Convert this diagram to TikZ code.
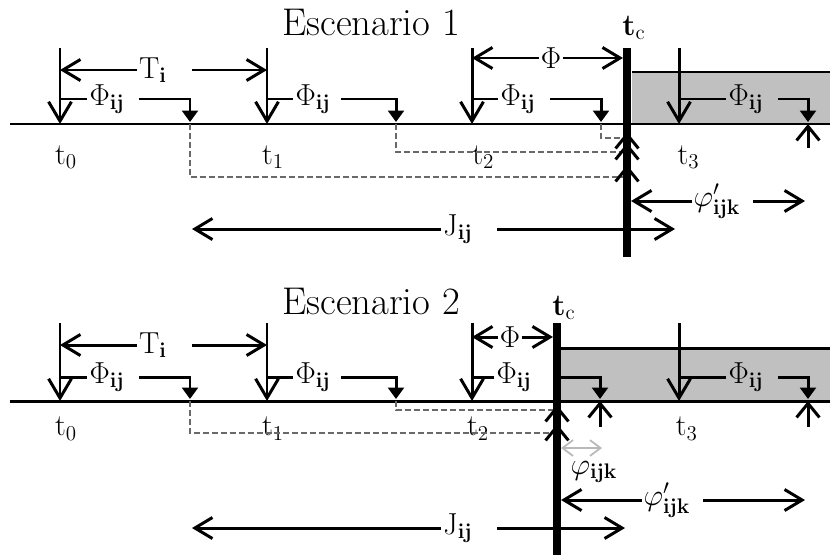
\documentclass[tikz,border=0pt]{standalone}
\usepackage{amsmath}
\usetikzlibrary{arrows.meta,positioning}
\definecolor{zonegray}{RGB}{192,192,192}
\definecolor{dashgray}{RGB}{105,105,105}

\begin{document}
\begin{tikzpicture}[
  x=0.02cm, y=-0.02cm,
  font=\LARGE,
  timeline/.style={line width=1.7pt},
  cut/.style={line width=4.6pt},
  release/.style={line width=1.7pt, -{Straight Barb[length=11pt,width=13pt]}},
  span/.style={line width=1.7pt, -{Straight Barb[length=10pt,width=12pt]}},
  delay/.style={line width=1.7pt, -{Triangle[length=6.5pt,width=9pt]}},
  trace/.style={dash pattern=on 3.4pt off 1.7pt, dashgray, line width=0.9pt},
  arrive/.style={line width=1.7pt, -{Straight Barb[length=8pt,width=13pt]}},
  phiarrow/.style={line width=1pt, gray!55, {Straight Barb[length=6pt,width=9pt]}-{Straight Barb[length=6pt,width=9pt]}},
  lbl/.style={inner xsep=1pt, inner ysep=1pt},
  heading/.style={font=\fontsize{22}{26}\selectfont}
]
\useasboundingbox (0,0) rectangle (830,555);

% Escenario 1
\node[heading] (esc1) at (371,22) {Escenario 1};
\fill[zonegray] (632,72) rectangle (830,124);
\coordinate (s1top) at (0,48);
\coordinate (s1L) at (10,124);
\coordinate (s1R) at (830,124);
\coordinate (s1zone) at (632,72);
\draw[timeline] (s1zone) -- (s1zone -| s1R);
\draw[timeline] (s1L) -- (s1R);

\coordinate (s1t0) at (60,124);
\coordinate (s1t1) at (267,124);
\coordinate (s1t2) at (472,124);
\coordinate (s1t3) at (679,124);
\coordinate (s1c) at (627,48);
\coordinate (s1cb) at (627,257);

\draw[release] (s1t0 |- s1top) -- (s1t0);
\draw[release] (s1t1 |- s1top) -- (s1t1);
\draw[release] (s1t2 |- s1top) -- (s1t2);
\draw[release] (s1t3 |- s1top) -- (s1t3);
\node[lbl, below right=11pt and -4pt of s1t0] (s1n0) {$\mathrm{t}_0$};
\node[lbl, below right=11pt and -4pt of s1t1] (s1n1) {$\mathrm{t}_1$};
\node[lbl, below right=11pt and -1pt of s1t2] (s1n2) {$\mathrm{t}_2$};
\node[lbl, below right=11pt and -2pt of s1t3] (s1n3) {$\mathrm{t}_3$};

\node[lbl] (s1T) at (153,70) {$\mathrm{T}_{\mathbf{i}}$};
\draw[span] (s1T) -- (s1t0 |- s1T);
\draw[span] ([xshift=13pt]s1T.east) -- (s1t1 |- s1T);
\node[lbl] (s1F) at (551,58) {$\Phi$};
\draw[span] (s1F) -- (s1t2 |- s1F);
\draw[span, shorten >=2.3pt] (s1F) -- (s1c |- s1F);

% Phi_ij
\coordinate (s1d0) at (190,122);
\coordinate (s1d1) at (396,122);
\coordinate (s1d2) at (601,122);
\coordinate (s1d3) at (808,122);
\node[lbl] (s1p0) at (107,99) {$\Phi_{\mathbf{ij}}$};
\node[lbl] (s1p1) at (313,99) {$\Phi_{\mathbf{ij}}$};
\node[lbl] (s1p2) at (518,99) {$\Phi_{\mathbf{ij}}$};
\node[lbl, fill=zonegray] (s1p3) at (746,99) {$\Phi_{\mathbf{ij}}$};
\draw[timeline] (s1t0 |- s1p0) -- (s1p0);
\draw[timeline] (s1t1 |- s1p1) -- (s1p1);
\draw[timeline] (s1t2 |- s1p2) -- (s1p2);
\draw[timeline] (s1t3 |- s1p3) -- (s1p3);
\draw[delay] ([xshift=7pt]s1p0.east) -| (s1d0);
\draw[delay] ([xshift=5pt]s1p1.east) -| (s1d1);
\draw[delay] ([xshift=7pt]s1p2.east) -| (s1d2);
\draw[delay] ([xshift=7pt]s1p3.east) -| (s1d3);

% traces towards t_c
\coordinate (s1a0) at (627,177);
\coordinate (s1a1) at (627,152);
\coordinate (s1a2) at (627,138);
\coordinate (s1h0) at (627,165);
\coordinate (s1h1) at (627,143);
\coordinate (s1h2) at (627,132);
\coordinate (s1u) at (0,148);
\draw[trace] (s1d0 |- s1L) |- (s1a0);
\draw[trace] (s1d1 |- s1L) |- (s1a1);
\draw[trace] (s1d2 |- s1L) |- (s1a2);
\draw[arrive] ([yshift=-0.3cm]s1h0) -- (s1h0);
\draw[arrive] ([yshift=-0.3cm]s1h1) -- (s1h1);
\draw[arrive] ([yshift=-0.3cm]s1h2) -- (s1h2);
\draw[arrive] (s1d3 |- s1u) -- (s1d3 |- s1L);

\node[lbl] (s1tc) at (634,28) {$\mathbf{t}_{\mathrm{c}}$};

\node[lbl] (s1f) at (717,201) {$\varphi'_{\mathbf{ijk}}$};
\coordinate (s1fr) at (805,201);
\draw[span, shorten >=2.3pt] (s1f) -- (s1c |- s1f);
\draw[span] ([xshift=6pt]s1f.east) -- (s1fr);
\node[lbl] (s1J) at (458,229) {$\mathrm{J}_{\mathbf{ij}}$};
\coordinate (s1j0) at (192,229);
\coordinate (s1j1) at (675,229);
\draw[span] (s1J) -- (s1j0);
\draw[span] ([xshift=13pt]s1J.east) -- (s1j1);
\draw[cut] (s1c) -- (s1cb);

% Escenario 2
\node[heading] (esc2) at (371,301) {Escenario 2};
\fill[zonegray] (561,348) rectangle (830,401);
\coordinate (s2top) at (0,323);
\coordinate (s2L) at (10,401);
\coordinate (s2R) at (830,401);
\coordinate (s2zone) at (561,348);
\draw[timeline] (s2zone) -- (s2zone -| s2R);
\draw[timeline] (s2L) -- (s2R);

\coordinate (s2t0) at (60,401);
\coordinate (s2t1) at (267,401);
\coordinate (s2t2) at (472,401);
\coordinate (s2t3) at (679,401);
\coordinate (s2c) at (557,323);
\coordinate (s2cb) at (557,555);

\draw[release] (s2t0 |- s2top) -- (s2t0);
\draw[release] (s2t1 |- s2top) -- (s2t1);
\draw[release] (s2t2 |- s2top) -- (s2t2);
\draw[release] (s2t3 |- s2top) -- (s2t3);
\node[lbl, below right=8pt and -4pt of s2t0] (s2n0) {$\mathrm{t}_0$};
\node[lbl, below right=8pt and -4pt of s2t1] (s2n1) {$\mathrm{t}_1$};
\node[lbl, below right=8pt and -4pt of s2t2] (s2n2) {$\mathrm{t}_2$};
\node[lbl, below right=8pt and -3pt of s2t3] (s2n3) {$\mathrm{t}_3$};

\node[lbl] (s2T) at (153,345) {$\mathrm{T}_{\mathbf{i}}$};
\draw[span] (s2T) -- (s2t0 |- s2T);
\draw[span] ([xshift=13pt]s2T.east) -- (s2t1 |- s2T);
\node[lbl] (s2F) at (510,337) {$\Phi$};
\draw[span] (s2F) -- (s2t2 |- s2F);
\draw[span, shorten >=2.3pt] (s2F) -- (s2c |- s2F);

% Phi_ij
\coordinate (s2d0) at (190,399);
\coordinate (s2d1) at (396,399);
\coordinate (s2d2) at (600,399);
\coordinate (s2d3) at (808,399);
\node[lbl] (s2p0) at (107,377) {$\Phi_{\mathbf{ij}}$};
\node[lbl] (s2p1) at (313,377) {$\Phi_{\mathbf{ij}}$};
\node[lbl] (s2p2) at (514,377) {$\Phi_{\mathbf{ij}}$};
\node[lbl, fill=zonegray] (s2p3) at (746,377) {$\Phi_{\mathbf{ij}}$};
\draw[timeline] (s2t0 |- s2p0) -- (s2p0);
\draw[timeline] (s2t1 |- s2p1) -- (s2p1);
\draw[timeline] (s2t2 |- s2p2) -- (s2p2);
\draw[timeline] (s2t3 |- s2p3) -- (s2p3);
\draw[delay] ([xshift=7pt]s2p0.east) -| (s2d0);
\draw[delay] ([xshift=5pt]s2p1.east) -| (s2d1);
\draw[delay] (s2c |- s2p2) -| (s2d2);
\draw[delay] ([xshift=7pt]s2p3.east) -| (s2d3);

% traces towards t_c
\coordinate (s2a0) at (557,433);
\coordinate (s2a1) at (557,410);
\coordinate (s2h0) at (557,424);
\coordinate (s2h1) at (557,405);
\coordinate (s2u) at (0,427);
\draw[trace] (s2d0 |- s2L) |- (s2a0);
\draw[trace] (s2d1 |- s2L) |- (s2a1);
\draw[arrive] ([yshift=-0.3cm]s2h0) -- (s2h0);
\draw[arrive] ([yshift=-0.3cm]s2h1) -- (s2h1);
\draw[arrive] (s2d2 |- s2u) -- (s2d2 |- s2L);
\draw[arrive] (s2d3 |- s2u) -- (s2d3 |- s2L);

\node[lbl] (s2tc) at (564,308) {$\mathbf{t}_{\mathrm{c}}$};

\coordinate (s2g0) at (561,448);
\coordinate (s2g1) at (602,448);
\draw[phiarrow] (s2g0) -- (s2g1);
\node[lbl] (s2g) at (594,472) {$\varphi_{\mathbf{ijk}}$};

\node[lbl] (s2f) at (667,500) {$\varphi'_{\mathbf{ijk}}$};
\coordinate (s2fr) at (805,500);
\draw[span, shorten >=2.3pt] (s2f) -- (s2c |- s2f);
\draw[span] ([xshift=6pt]s2f.east) -- (s2fr);
\node[lbl] (s2J) at (458,528) {$\mathrm{J}_{\mathbf{ij}}$};
\coordinate (s2j0) at (192,528);
\coordinate (s2j1) at (625,528);
\draw[span] (s2J) -- (s2j0);
\draw[span] ([xshift=13pt]s2J.east) -- (s2j1);
\draw[cut] (s2c) -- (s2cb);

\end{tikzpicture}
\end{document}
